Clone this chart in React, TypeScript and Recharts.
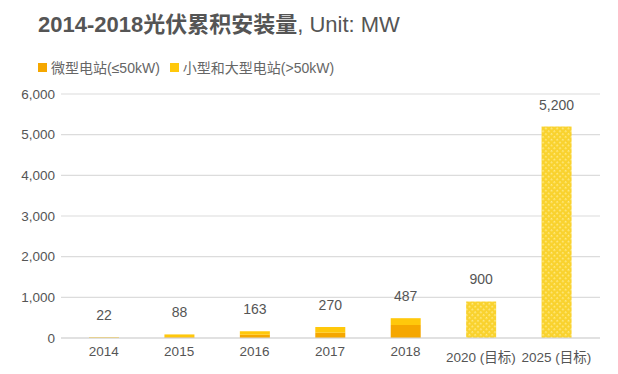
import React from 'react';
import { BarChart, Bar, XAxis, YAxis, CartesianGrid, LabelList } from 'recharts';

const categories = ['2014', '2015', '2016', '2017', '2018', '2020 (目标)', '2025 (目标)'];
const smallStations = [10, 20, 80, 130, 320, null, null];
const largeStations = [12, 68, 83, 140, 167, null, null];
const targets = [null, null, null, null, null, 900, 5200];
const totals = [22, 88, 163, 270, 487, 900, 5200];
const yTicks = [0, 1000, 2000, 3000, 4000, 5000, 6000];

const data = categories.map((c, i) => ({
  name: c,
  small: smallStations[i],
  large: largeStations[i],
  target: targets[i],
  total: totals[i],
}));

const FONT = "Helvetica, Arial, 'Liberation Sans', 'Noto Sans CJK SC', sans-serif";
const ORANGE = '#F5A700';
const YELLOW = '#FFC80B';

const fmt = (v: number) => v.toLocaleString('en-US');

const TotalLabel = (props: any) => {
  const { x, y, width, value } = props;
  if (value === null || value === undefined) return null;
  return (
    <text x={Number(x) + Number(width) / 2} y={Number(y) - 17} textAnchor="middle" fill="#555" fontSize={14} fontFamily={FONT}>
      {fmt(value)}
    </text>
  );
};

const XTick = (props: any) => {
  const { x, y, payload } = props;
  const isTarget = String(payload.value).includes('目标');
  return (
    <text x={x} y={y + (isTarget ? 24 : 18)} textAnchor="middle" fill="#555" fontSize={13.5} fontFamily={FONT}>
      {payload.value}
    </text>
  );
};

const LegendContent = () => (
  <div style={{ display: 'flex', alignItems: 'center', fontFamily: FONT, fontSize: 14, color: '#666' }}>
    <span style={{ display: 'inline-block', width: 9, height: 9, background: ORANGE, marginRight: 4 }} />
    <span style={{ marginRight: 10 }}>微型电站(≤50kW)</span>
    <span style={{ display: 'inline-block', width: 9, height: 9, background: YELLOW, marginRight: 4 }} />
    <span>小型和大型电站(&gt;50kW)</span>
  </div>
);

export default function App() {
  return (
    <div style={{ position: 'absolute', left: 0, top: 0, width: 618, height: 374, background: '#fff' }}>
      <div style={{ position: 'absolute', left: 38, top: 10, fontFamily: FONT, fontSize: 22, color: '#555', whiteSpace: 'nowrap', lineHeight: '30px' }}>
        <span style={{ fontWeight: 'bold' }}>2014-2018光伏累积安装量</span>
        <span>, Unit: MW</span>
      </div>
      <div style={{ position: 'absolute', left: 38, top: 57 }}>
        <LegendContent />
      </div>
      <BarChart width={618} height={374} data={data} margin={{ top: 94, right: 18, bottom: 0, left: 0 }}>
        <defs>
          <pattern id="targetPattern" width="4" height="4" patternUnits="userSpaceOnUse" patternTransform="rotate(45)">
            <rect width="4" height="4" fill="#F9D22E" />
            <rect x="0" y="0" width="1.6" height="1.6" fill="#FFEB8A" />
          </pattern>
        </defs>
        <CartesianGrid vertical={false} stroke="#DCDCDC" strokeWidth={1.2} />
        <XAxis
          dataKey="name"
          tick={<XTick />}
          tickLine={false}
          axisLine={{ stroke: '#D5D5D5', strokeWidth: 1.2 }}
          tickSize={0}
          tickMargin={0}
          height={36}
          padding={{ left: 5, right: 6 }}
          interval={0}
        />
        <YAxis
          domain={[0, 6000]}
          ticks={yTicks}
          tickFormatter={fmt}
          axisLine={false}
          tickLine={false}
          tickSize={0}
          tickMargin={6}
          width={61}
          tick={{ fill: '#555', fontSize: 13.5, fontFamily: FONT }}
        />
        <Bar dataKey="small" stackId="a" fill={ORANGE} barSize={30} isAnimationActive={false} />
        <Bar dataKey="large" stackId="a" fill={YELLOW} barSize={30} isAnimationActive={false}>
          <LabelList dataKey={(d: any) => (d.large != null ? d.total : null)} content={<TotalLabel />} />
        </Bar>
        <Bar dataKey="target" stackId="a" fill="url(#targetPattern)" barSize={30} isAnimationActive={false}>
          <LabelList dataKey={(d: any) => (d.target != null ? d.total : null)} content={<TotalLabel />} />
        </Bar>
      </BarChart>
    </div>
  );
}
